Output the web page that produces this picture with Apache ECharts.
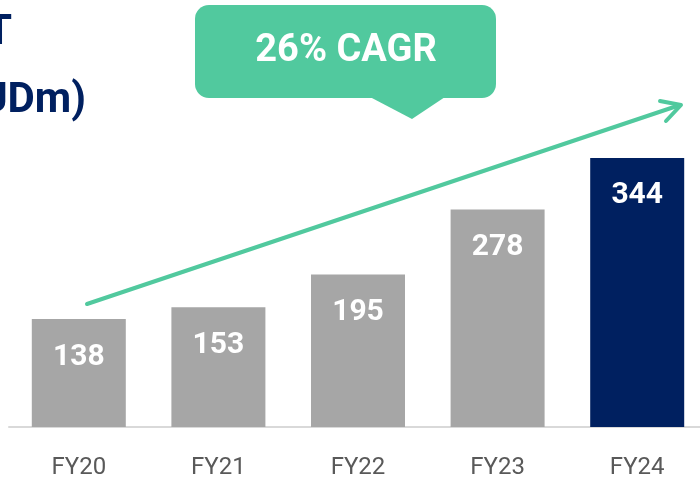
<!DOCTYPE html>
<html>
<head>
<meta charset="utf-8">
<script src="https://cdn.jsdelivr.net/npm/echarts@6/dist/echarts.min.js"></script>
<style>
  html, body { margin: 0; padding: 0; background: #fff; }
  #chart { width: 700px; height: 478px; }
</style>
</head>
<body>
<div id="chart"></div>
<script>
const categories = ['FY20', 'FY21', 'FY22', 'FY23', 'FY24'];
const values = [138, 153, 195, 278, 344];
const barColors = ['#A6A6A6', '#A6A6A6', '#A6A6A6', '#A6A6A6', '#002060'];
const titleLines = ['EBIT', '(AUDm)'];
const cagrText = '26% CAGR';

const green = '#51C99E';
const navy = '#002060';

const chart = echarts.init(document.getElementById('chart'));
const option = {
  animation: false,
  grid: { left: 9, width: 698, top: 0, bottom: 51, outerBoundsMode: 'none', containLabel: false },
  xAxis: {
    type: 'category',
    data: categories,
    axisLine: { show: true, lineStyle: { color: '#D9D9D9', width: 2 } },
    axisTick: { show: false },
    axisLabel: {
      margin: 29,
      color: '#595959',
      fontFamily: 'Roboto',
      fontSize: 24
    }
  },
  yAxis: {
    type: 'value',
    min: 0,
    max: 546,
    show: false,
    splitLine: { show: false }
  },
  series: [
    {
      type: 'bar',
      barWidth: 94,
      data: values.map((v, i) => ({ value: v, itemStyle: { color: barColors[i] } })),
      label: {
        show: true,
        position: 'insideTop',
        distance: 23,
        color: '#fff',
        fontFamily: 'Roboto',
        fontWeight: 'bold',
        fontSize: 30
      }
    }
  ],
  graphic: [
    // 标题（左侧被裁切）
    {
      type: 'text',
      style: { x: 12, y: 12, text: titleLines[0], align: 'right', verticalAlign: 'top',
        fill: navy, font: 'bold 42px Roboto' }
    },
    {
      type: 'text',
      style: { x: 86, y: 80, text: titleLines[1], align: 'right', verticalAlign: 'top',
        fill: navy, font: 'bold 42px Roboto' }
    },
    // CAGR 气泡
    {
      type: 'rect',
      shape: { x: 195, y: 5, width: 301, height: 93, r: 14 },
      style: { fill: green }
    },
    {
      type: 'polygon',
      shape: { points: [[370, 97], [445, 97], [412, 119]] },
      style: { fill: green }
    },
    {
      type: 'text',
      style: { x: 346, y: 51, text: cagrText, align: 'center', verticalAlign: 'middle',
        fill: '#fff', font: 'bold 38px Roboto' }
    },
    // 趋势箭头
    {
      type: 'line',
      shape: { x1: 87, y1: 304, x2: 680, y2: 105 },
      style: { stroke: green, lineWidth: 4, lineCap: 'round' }
    },
    {
      type: 'polyline',
      shape: { points: [[660, 101], [681, 105], [666, 121]] },
      style: { stroke: green, lineWidth: 4, fill: null, lineCap: 'round', lineJoin: 'round' }
    }
  ]
};
chart.setOption(option);
</script>
</body>
</html>
